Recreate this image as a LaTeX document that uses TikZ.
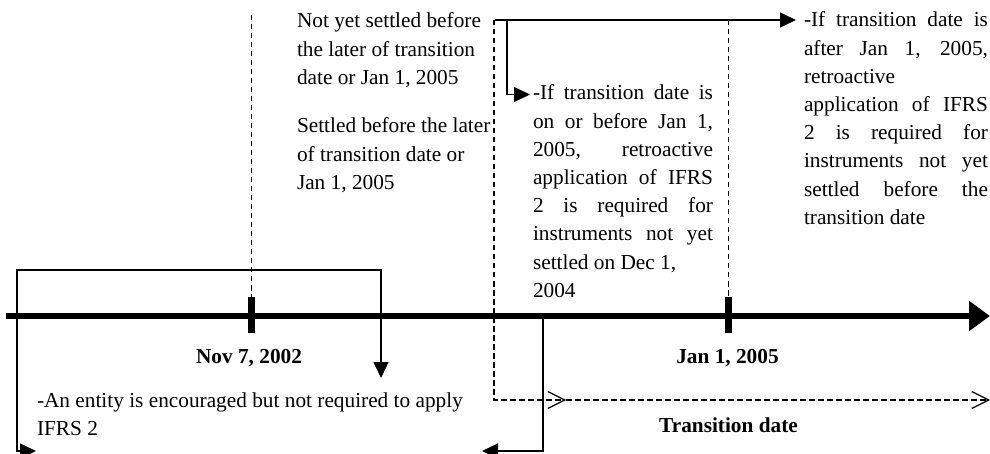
\documentclass[tikz,border=0pt]{standalone}
\usepackage{fontspec}
\setmainfont{Liberation Serif}
\usetikzlibrary{arrows.meta}
\begin{document}
\begin{tikzpicture}[x=1pt,y=-1pt,
  txt/.style={inner sep=0pt, outer sep=0pt, anchor=base west,
    font=\fontsize{21.3}{28.2}\selectfont},
  datelbl/.style={inner sep=0pt, anchor=base,
    font=\fontsize{21.3}{28.2}\selectfont\bfseries},
  thinline/.style={line width=1.4pt},
  guide/.style={line width=1.4pt, dash pattern=on 5.5pt off 3.5pt},
  solidtip/.style={-{Triangle[length=16pt,width=15pt]}},
  opentip/.style={-{Straight Barb[length=17pt,width=17pt,line width=1.2pt]}},
  tickmark/.style={fill=black, minimum width=7pt, minimum height=36pt,
    inner sep=0pt, outer sep=0pt},
]
\useasboundingbox (0,0) rectangle (990,454);

% ---- text blocks ----
\node[txt] (notyet) at (297,28) {\vtop{%
  \hbox{Not yet settled before}%
  \hbox{the later of transition}%
  \hbox{date or Jan 1, 2005}}};
\node[txt] (settled) at (297,133) {\vtop{%
  \hbox{Settled before the later}%
  \hbox{of transition date or}%
  \hbox{Jan 1, 2005}}};
\node[txt] (midnote) at (533,100) {\vtop{%
  \hbox to 180pt{-If transition date is}%
  \hbox to 180pt{on or before Jan 1,}%
  \hbox to 180pt{2005, retroactive}%
  \hbox to 180pt{application of IFRS}%
  \hbox to 180pt{2 is required for}%
  \hbox to 180pt{instruments not yet}%
  \hbox{settled on Dec 1,}%
  \hbox{2004}}};
\node[txt] (rightnote) at (804,27) {\vtop{%
  \hbox to 184pt{-If transition date is}%
  \hbox to 184pt{after Jan 1, 2005,}%
  \hbox{retroactive}%
  \hbox to 184pt{application of IFRS}%
  \hbox to 184pt{2 is required for}%
  \hbox to 184pt{instruments not yet}%
  \hbox to 184pt{settled before the}%
  \hbox{transition date}}};
\node[txt] (entity) at (37,407) {\vtop{%
  \hbox{-An entity is encouraged but not required to apply}%
  \hbox{IFRS 2}}};
\node[datelbl] (nov) at (249,363) {Nov 7, 2002};
\node[datelbl] (jan) at (727.5,363) {Jan 1, 2005};
\node[datelbl] (trans) at (728.5,432) {Transition date};

% ---- tick marks on the time axis ----
\node[tickmark] (tick1) at (251.5,315) {};
\node[tickmark] (tick2) at (728.5,315) {};

% ---- dashed guides ----
\coordinate (g1top) at (251.5,15);
\coordinate (g3top) at (728.5,20);
\coordinate (g2top) at (494,20);
\coordinate (g2corner) at (494,400);
\coordinate (g2mid) at (566,400);
\coordinate (g2end) at (990,400);
\draw[guide] (g1top) -- (tick1.north);
\draw[guide] (g3top) -- (tick2.north);
\draw[guide, opentip] (g2top) -- (g2corner) -- (g2mid);
\draw[guide, opentip] (g2mid) -- (g2end);

% ---- solid connectors ----
\coordinate (split) at (495,20);
\coordinate (branch) at (507,20);
\draw[thinline, solidtip] (split) -- ([shift={(-8,-7)}]rightnote.base west);
\draw[thinline, solidtip] (branch) |- ([shift={(-3,-5.5)}]midnote.base west);

\coordinate (lbtip) at (36,451);
\coordinate (lbtopleft) at (17,270);
\coordinate (lbdown) at (381,378);
\draw[thinline, {Triangle[length=16pt,width=15pt]}-{Triangle[length=16pt,width=15pt]}]
  (lbtip) -| (lbtopleft) -| (lbdown);

\coordinate (rbtop) at (543,316);
\coordinate (rbtip) at (482,451);
\draw[thinline, solidtip] (rbtop) |- (rbtip);

% ---- time axis ----
\coordinate (axisstart) at (6,316);
\coordinate (axisend) at (990,316);
\draw[line width=6pt, -{Triangle[length=21pt,width=29pt]}] (axisstart) -- (axisend);
\node[tickmark] at (tick1) {};
\node[tickmark] at (tick2) {};
\end{tikzpicture}
\end{document}
